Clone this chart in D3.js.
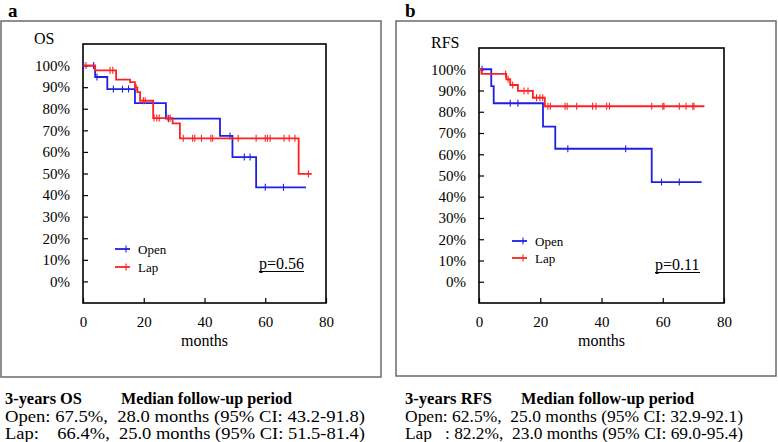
<!DOCTYPE html>
<html><head><meta charset="utf-8">
<script src="https://cdn.jsdelivr.net/npm/d3@7"></script>
<style>
body{margin:0;background:#fff;}
svg text{font-family:"Liberation Serif","Times New Roman",serif;fill:#000;white-space:pre;}
</style></head>
<body>
<svg id="c" width="778" height="442"></svg>
<script>
// ---------- data ----------
const xTicks = [0, 20, 40, 60, 80];
const yTicks = [0, 0.1, 0.2, 0.3, 0.4, 0.5, 0.6, 0.7, 0.8, 0.9, 1.0];

// Panel a: OS
const osOpenTimes = [0, 4, 8, 17.1, 27.3, 45.1, 49.2, 57, 73.4];
const osOpenSurv  = [1, 0.947, 0.891, 0.826, 0.754, 0.674, 0.576, 0.436, 0.436];
const osOpenCens  = [0.2, 3.5, 4.6, 10, 13, 15, 28.2, 48.4, 53.1, 55, 60, 66];
const osLapTimes  = [0, 4, 10.9, 15.5, 17.1, 17.9, 18.8, 23.1, 29.5, 31.9, 71, 75.3];
const osLapSurv   = [1, 0.978, 0.935, 0.923, 0.899, 0.877, 0.837, 0.757, 0.732, 0.663, 0.498, 0.498];
const osLapCens   = [1, 8.9, 9.8, 17.5, 19.9, 20.5, 23.4, 24.3, 25.1, 28, 28.7, 33, 36.1, 36.8, 39, 42.1, 42.7, 51.1, 57, 60, 60.7, 61.6, 66.2, 67.9, 69.8, 74.2];

// Panel b: RFS
const rfsOpenTimes = [0, 4, 4.8, 20.9, 24.9, 56.4, 72.7];
const rfsOpenSurv  = [1, 0.921, 0.840, 0.730, 0.626, 0.469, 0.469];
const rfsOpenCens  = [1, 10.2, 12.7, 29, 47.9, 59.6, 65.4];
const rfsLapTimes  = [0, 0.8, 8.9, 10.2, 12.7, 17.6, 21.5, 73.6];
const rfsLapSurv   = [1, 0.978, 0.953, 0.926, 0.898, 0.866, 0.826, 0.826];
const rfsLapCens   = [8.7, 9.5, 11, 14.7, 16, 18.8, 19.9, 20.8, 22.5, 23.3, 28.1, 28.8, 31.9, 37.1, 38.2, 41.7, 42.6, 56.4, 60, 60.4, 65.4, 67.6, 69.8, 70.2];

const seriesNames = ["Open", "Lap"];
const colors = {Open: "#1f1fe6", Lap: "#ff2121"};

const panelA = {letter: "a", ylabel: "OS", p: "p=0.56",
  series: [{name: "Open", t: osOpenTimes, s: osOpenSurv, c: osOpenCens},
           {name: "Lap", t: osLapTimes, s: osLapSurv, c: osLapCens}],
  notes: [["3-years OS", "Median follow-up period"],
          "Open: 67.5%,  28.0 months (95% CI: 43.2-91.8)",
          "Lap:    66.4%,  25.0 months (95% CI: 51.5-81.4)"]};
const panelB = {letter: "b", ylabel: "RFS", p: "p=0.11",
  series: [{name: "Open", t: rfsOpenTimes, s: rfsOpenSurv, c: rfsOpenCens},
           {name: "Lap", t: rfsLapTimes, s: rfsLapSurv, c: rfsLapCens}],
  notes: [["3-years RFS", "Median follow-up period"],
          "Open: 62.5%,  25.0 months (95% CI: 32.9-92.1)",
          "Lap   : 82.2%,  23.0 months (95% CI: 69.0-95.4)"]};

// ---------- layout ----------
const layouts = [
  {panel: panelA, box: [1, 21, 380, 356], plot: {l: 83, r: 326, t: 44, b: 303},
   letterX: 8, ylabX: 34, ylabY: 44, legX: 115, legY: [249, 267], pX: 259, pY: 269,
   noteX: 5, noteW: [77, 171, 360], noteX2: 121},
  {panel: panelB, box: [396, 21, 380, 355], plot: {l: 479, r: 724, t: 48, b: 303},
   letterX: 405, ylabX: 431, ylabY: 48, legX: 512, legY: [241, 258], pX: 655, pY: 270,
   noteX: 405, noteW: [87, 173, 338], noteX2: 521}
];

const svg = d3.select("#c");

function survAt(t, times, surv) {
  const i = d3.bisectRight(times, t) - 1;
  return surv[Math.max(0, i)];
}

layouts.forEach(L => {
  const P = L.panel;
  const g = svg.append("g");
  // outer frame
  g.append("rect").attr("x", L.box[0]).attr("y", L.box[1]).attr("width", L.box[2]).attr("height", L.box[3])
    .attr("fill", "none").attr("stroke", "#6b6b6b").attr("stroke-width", 1.5);
  // panel letter
  svg.append("text").attr("x", L.letterX).attr("y", 17).attr("font-size", 19).attr("font-weight", "bold").text(P.letter);

  const x = d3.scaleLinear().domain([0, 80]).range([L.plot.l, L.plot.r]);
  const y = d3.scaleLinear().domain([-0.1, 1.1]).range([L.plot.b, L.plot.t]);

  // axes
  const xAxis = d3.axisBottom(x).tickValues(xTicks).tickSizeInner(-5).tickSizeOuter(0).tickPadding(13);
  const gx = g.append("g").attr("transform", `translate(0,${L.plot.b})`).call(xAxis);
  const yAxis = d3.axisLeft(y).tickValues(yTicks).tickFormat(d3.format(".0%")).tickSizeInner(-5).tickSizeOuter(0).tickPadding(13);
  const gy = g.append("g").attr("transform", `translate(${L.plot.l},0)`).call(yAxis);
  [gx, gy].forEach(a => {
    a.attr("font-family", null);
    a.select(".domain").remove();
    a.selectAll(".tick line").attr("stroke", "#000").attr("stroke-width", 1.2);
    a.selectAll(".tick text").attr("font-family", "Liberation Serif").attr("font-size", 15).attr("fill", "#000");
  });
  gx.selectAll(".tick text").attr("dy", "0.71em");
  // plot box
  g.append("rect").attr("x", L.plot.l).attr("y", L.plot.t)
    .attr("width", L.plot.r - L.plot.l).attr("height", L.plot.b - L.plot.t)
    .attr("fill", "none").attr("stroke", "#000").attr("stroke-width", 1.6);

  // labels
  g.append("text").attr("x", L.ylabX).attr("y", L.ylabY).attr("font-size", 16).text(P.ylabel);
  g.append("text").attr("x", (L.plot.l + L.plot.r) / 2).attr("y", 346).attr("text-anchor", "middle").attr("font-size", 16).text("months");

  // curves
  const line = d3.line().x(d => x(d[0])).y(d => y(d[1])).curve(d3.curveStepAfter);
  P.series.forEach(S => {
    const pts = S.t.map((t, i) => [t, S.s[i]]);
    g.append("path").attr("d", line(pts)).attr("fill", "none")
      .attr("stroke", colors[S.name]).attr("stroke-width", 1.8);
    g.selectAll(null).data(S.c).enter().append("line")
      .attr("x1", d => x(d)).attr("x2", d => x(d))
      .attr("y1", d => y(survAt(d, S.t, S.s)) - 3.5)
      .attr("y2", d => y(survAt(d, S.t, S.s)) + 3.5)
      .attr("stroke", colors[S.name]).attr("stroke-width", 1.1);
  });

  // legend
  seriesNames.forEach((n, i) => {
    const ly = L.legY[i];
    g.append("line").attr("x1", L.legX).attr("x2", L.legX + 15).attr("y1", ly).attr("y2", ly)
      .attr("stroke", colors[n]).attr("stroke-width", 1.8);
    g.append("line").attr("x1", L.legX + 11).attr("x2", L.legX + 11).attr("y1", ly - 3.5).attr("y2", ly + 3.5)
      .attr("stroke", colors[n]).attr("stroke-width", 1.1);
    g.append("text").attr("x", L.legX + 23).attr("y", ly + 4.5).attr("font-size", 13).text(n);
  });

  // p-value
  g.append("text").attr("x", L.pX).attr("y", L.pY).attr("font-size", 16).text(P.p);
  g.append("line").attr("x1", L.pX).attr("x2", L.pX + 45).attr("y1", L.pY + 2.5).attr("y2", L.pY + 2.5)
    .attr("stroke", "#000").attr("stroke-width", 1.2);

  // notes below
  const nb = [404, 422, 439];
  g.append("text").attr("x", L.noteX).attr("y", nb[0]).attr("font-size", 16).attr("font-weight", "bold")
    .attr("textLength", L.noteW[0]).attr("lengthAdjust", "spacingAndGlyphs").text(P.notes[0][0]);
  g.append("text").attr("x", L.noteX2).attr("y", nb[0]).attr("font-size", 16).attr("font-weight", "bold")
    .attr("textLength", L.noteW[1]).attr("lengthAdjust", "spacingAndGlyphs").text(P.notes[0][1]);
  [1, 2].forEach(k => {
    g.append("text").attr("x", L.noteX).attr("y", nb[k]).attr("font-size", 16)
      .attr("textLength", L.noteW[2]).attr("lengthAdjust", "spacingAndGlyphs").text(P.notes[k]);
  });
});
</script>
</body></html>
